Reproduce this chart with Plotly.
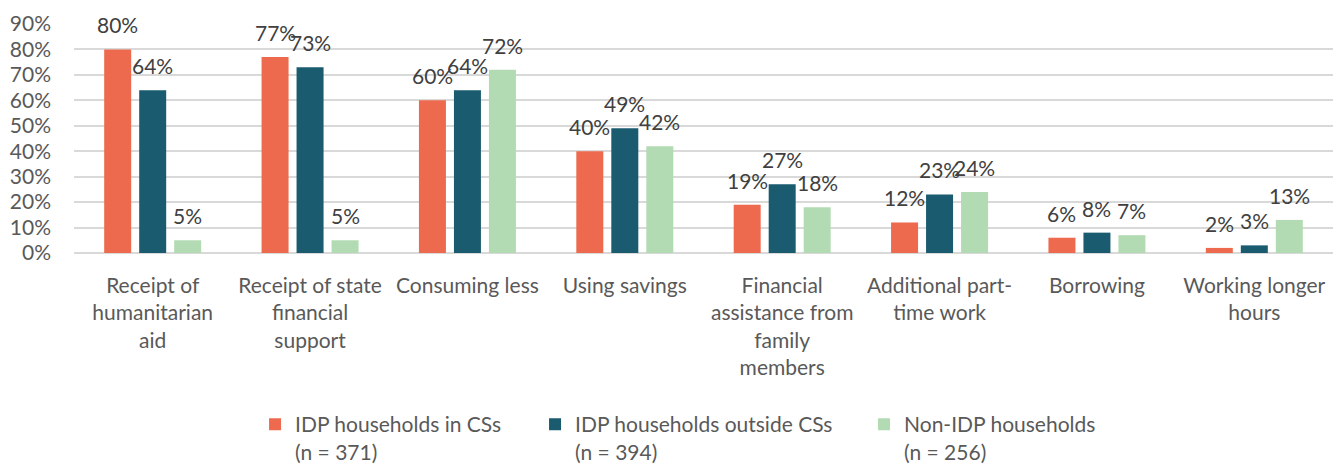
import plotly.graph_objects as go

# ── Data ─────────────────────────────────────────────────────────────────────
categories = [
    "Receipt of<br>humanitarian<br>aid",
    "Receipt of state<br>financial<br>support",
    "Consuming less",
    "Using savings",
    "Financial<br>assistance from<br>family<br>members",
    "Additional part-<br>time work",
    "Borrowing",
    "Working longer<br>hours",
]
idp_in_cs = [0.80, 0.77, 0.60, 0.40, 0.19, 0.12, 0.06, 0.02]
idp_outside_cs = [0.64, 0.73, 0.64, 0.49, 0.27, 0.23, 0.08, 0.03]
non_idp = [0.05, 0.05, 0.72, 0.42, 0.18, 0.24, 0.07, 0.13]

series_names = [
    "IDP households in CSs<br>(n = 371)",
    "IDP households outside CSs<br>(n = 394)",
    "Non-IDP households<br>(n = 256)",
]
y_ticks = [0, 0.1, 0.2, 0.3, 0.4, 0.5, 0.6, 0.7, 0.8, 0.9]

# ── Style ────────────────────────────────────────────────────────────────────
COLORS = ["#EE6A4E", "#1A5B70", "#B3DBB3"]
FONT = "Lato"
W, H = 1333, 466
MARGIN = dict(l=74, r=0, t=24, b=213, autoexpand=False)

# bar geometry: slot of 35px per bar inside a ~157px category
cat_px = (W - MARGIN["l"] - MARGIN["r"]) / len(categories)
slot_px = 35
bargap = 1 - 3 * slot_px / cat_px
bargroupgap = 1 - 27 / slot_px

# one legend per series so each entry can sit where the original has it
LEGEND_IDS = ["legend", "legend2", "legend3"]
LEGEND_X = [0.1438, 0.3662, 0.6275]

fig = go.Figure()
all_series = [idp_in_cs, idp_outside_cs, non_idp]
for name, vals, color, leg in zip(series_names, all_series, COLORS, LEGEND_IDS):
    fig.add_trace(go.Bar(
        x=categories, y=vals, name=name, legend=leg,
        marker=dict(color=color, line=dict(width=0)),
    ))

# data labels above each bar
for s, vals in enumerate(all_series):
    for cat, v in zip(categories, vals):
        fig.add_annotation(
            x=cat, y=v, text=f"{v:.0%}",
            xshift=(s - 1) * slot_px, yshift=10,
            yanchor="bottom", showarrow=False,
            font=dict(family=FONT, size=21, color="#404040"),
        )

legend_style = dict(
    orientation="h",
    xanchor="left",
    y=-0.66, yanchor="top",
    valign="top",
    bgcolor="rgba(0,0,0,0)",
    font=dict(family=FONT, size=21, color="#595959"),
)

fig.update_layout(
    width=W, height=H,
    margin=MARGIN,
    barmode="group",
    bargap=bargap,
    bargroupgap=bargroupgap,
    plot_bgcolor="white",
    paper_bgcolor="white",
    font=dict(family=FONT, size=21, color="#595959"),
    showlegend=True,
    **{leg: dict(legend_style, x=lx) for leg, lx in zip(LEGEND_IDS, LEGEND_X)},
    xaxis=dict(
        showgrid=False, showline=False, ticks="",
        ticklabelstandoff=18,
        tickfont=dict(size=21, color="#595959"),
    ),
    yaxis=dict(
        range=[0, 0.9],
        tickvals=y_ticks,
        tickformat=".0%",
        showgrid=True, gridcolor="#D9D9D9", gridwidth=2,
        zeroline=True, zerolinecolor="#D9D9D9", zerolinewidth=2,
        showline=False, ticks="",
        ticklabelstandoff=22,
        tickfont=dict(size=21, color="#595959"),
    ),
)

# drop the page's default body margin so the figure sits at (0, 0)
fig.write_html(
    "out.html",
    config={"displayModeBar": False},
    post_script="document.body.style.margin = '0';",
)
